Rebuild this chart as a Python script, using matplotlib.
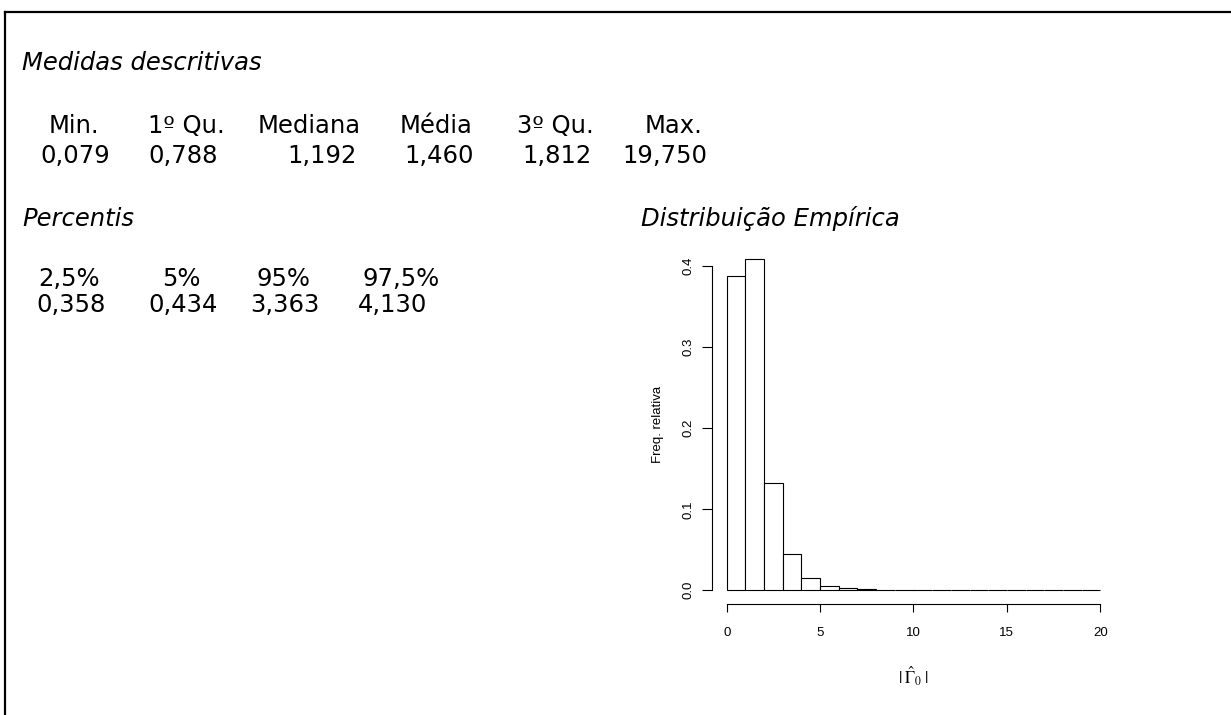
"""summary sheet for |Gamma_0|: descriptive stats, percentiles and the
empirical distribution (relative-frequency histogram, unit bins on 0..20).

text blocks are laid out in pixel units of the 1231x715 canvas; the
histogram axes follow R's hist() look: detached axes, 4% range padding.
"""
import numpy as np
import matplotlib
matplotlib.use("Agg")
import matplotlib.pyplot as plt
from matplotlib.lines import Line2D

W_PX, H_PX, DPI = 1231, 715, 100

# descriptive measures
SUMMARY_LABELS = ["Min.", "1º Qu.", "Mediana", "Média", "3º Qu.", "Max."]
SUMMARY_VALUES = ["0,079", "0,788", "1,192", "1,460", "1,812", "19,750"]

# percentiles
PCT_LABELS = ["2,5%", "5%", "95%", "97,5%"]
PCT_VALUES = ["0,358", "0,434", "3,363", "4,130"]

# histogram: left bin edges (width 1) and relative frequencies
BIN_LEFT = [0, 1, 2, 3, 4, 5, 6, 7, 8, 9, 10, 11, 12, 13, 14, 15, 16, 17, 18, 19]
BIN_WIDTH = 1.0
REL_FREQ = [0.3885, 0.4086, 0.1321, 0.0444, 0.0148, 0.0058, 0.0025, 0.0016,
            0.0006, 0.0003, 0.0002, 0.0001, 0.0001, 0.0001, 0.0, 0.0, 0.0,
            0.0, 0.0, 0.0001]
X_TICKS = [0, 5, 10, 15, 20]
Y_TICKS = [0.0, 0.1, 0.2, 0.3, 0.4]

# layout (pixels, top-left origin)
SUMMARY_LABEL_X = [49, 148, 258, 400, 517, 645]
SUMMARY_VALUE_X = [40, 148, 287, 404, 522, 622]
PCT_LABEL_X = [38, 162, 257, 362]
PCT_VALUE_X = [36, 148, 250, 358]

TXT_FONT = "DejaVu Sans"
AX_FONT = "Liberation Sans"
TXT_SIZE = 17.5


def px(x, y):
    """pixel position (top-left origin) -> figure fraction."""
    return x / W_PX, 1.0 - y / H_PX


def put(fig, x, y, s, italic=False):
    fx, fy = px(x, y)
    fig.text(fx, fy, s, ha="left", va="baseline", fontsize=TXT_SIZE,
             family=TXT_FONT, style="italic" if italic else "normal")


def drawText(fig):
    put(fig, 22, 70, "Medidas descritivas", italic=True)
    for x, s in zip(SUMMARY_LABEL_X, SUMMARY_LABELS):
        put(fig, x, 133, s)
    for x, s in zip(SUMMARY_VALUE_X, SUMMARY_VALUES):
        put(fig, x, 163, s)

    put(fig, 22, 226, "Percentis", italic=True)
    for x, s in zip(PCT_LABEL_X, PCT_LABELS):
        put(fig, x, 286, s)
    for x, s in zip(PCT_VALUE_X, PCT_VALUES):
        put(fig, x, 312, s)

    put(fig, 641, 226, "Distribuição Empírica", italic=True)


def drawHist(fig):
    # data range padded by 4% on each side, as R does
    x0, x1 = BIN_LEFT[0], BIN_LEFT[-1] + BIN_WIDTH
    ymax = max(REL_FREQ)
    xpad = 0.04 * (x1 - x0)
    ypad = 0.04 * ymax

    # axes box spans the padded range; data 0..20 maps to 727..1100 px
    left, top = 711.8, 246.1
    right, bottom = 1115.2, 603.5
    fl, fb = px(left, bottom)
    fr, ft = px(right, top)
    ax = fig.add_axes([fl, fb, fr - fl, ft - fb])
    ax.set_xlim(x0 - xpad, x1 + xpad)
    ax.set_ylim(-ypad, ymax + ypad)

    ax.bar(BIN_LEFT, REL_FREQ, width=BIN_WIDTH, align="edge",
           color="white", edgecolor="black", linewidth=0.8)

    for side in ("top", "right"):
        ax.spines[side].set_visible(False)
    ax.spines["left"].set_bounds(Y_TICKS[0], Y_TICKS[-1])
    ax.spines["bottom"].set_bounds(X_TICKS[0], X_TICKS[-1])
    for side in ("left", "bottom"):
        ax.spines[side].set_linewidth(0.8)

    ax.set_xticks(X_TICKS)
    ax.set_xticklabels([str(t) for t in X_TICKS], family=AX_FONT,
                       fontsize=9.5)
    ax.set_yticks(Y_TICKS)
    ax.set_yticklabels([f"{t:.1f}" for t in Y_TICKS], family=AX_FONT,
                       fontsize=9.5, rotation=90, va="center")
    ax.tick_params(axis="x", length=6, width=0.8, pad=11)
    ax.tick_params(axis="y", length=7.5, width=0.8, pad=5)

    ax.set_ylabel("Freq. relativa", family=AX_FONT, fontsize=9.5,
                  labelpad=13)
    ax.set_xlabel(r"$|\;\hat{\Gamma}_0\;|$", fontsize=12, labelpad=18)
    ax.patch.set_visible(False)
    return ax


def drawFrame(fig):
    # only the top and left edges of the frame fall inside the canvas
    x, y = px(5, 12)
    fig.add_artist(Line2D([x, 1.01], [y, y], color="black", lw=1.6,
                          transform=fig.transFigure))
    fig.add_artist(Line2D([x, x], [y, -0.01], color="black", lw=1.6,
                          transform=fig.transFigure))


def main():
    plt.rcParams["mathtext.fontset"] = "stix"
    fig = plt.figure(figsize=(W_PX / DPI, H_PX / DPI), dpi=DPI)
    fig.patch.set_facecolor("white")

    drawFrame(fig)
    drawText(fig)
    drawHist(fig)

    fig.savefig("out.png", dpi=DPI)
    plt.close(fig)


if __name__ == "__main__":
    main()
